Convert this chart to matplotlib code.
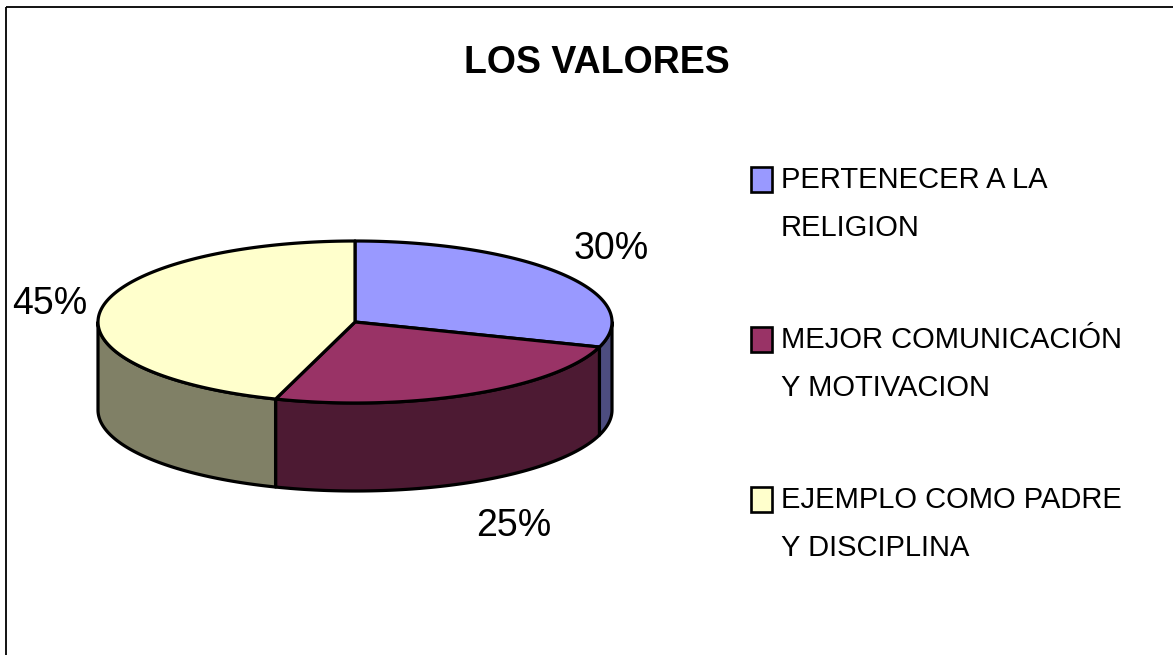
import numpy as np
import matplotlib
matplotlib.use("Agg")
import matplotlib.pyplot as plt
from matplotlib.patches import Polygon, Rectangle

# ---- data ----
title = "LOS VALORES"
categories = ["PERTENECER A LA\nRELIGION",
              "MEJOR COMUNICACIÓN\nY MOTIVACION",
              "EJEMPLO COMO PADRE\nY DISCIPLINA"]
values = [30, 25, 45]
colors = ["#9999FF", "#993366", "#FFFFCC"]

# ---- style / layout ----
W, H = 1173, 655
FONT = ["Liberation Sans", "DejaVu Sans"]
cx, cy = 355, 322          # centre of top ellipse (px)
rx, ry = 257, 81           # radii
depth = 88                 # thickness of the pie
start = 90                 # first slice starts at 12 o'clock, clockwise
lw = 2.3

def darker(c):
    r, g, b = matplotlib.colors.to_rgb(c)
    return (r * 0.5, g * 0.5, b * 0.5)

def arc(a0, a1, yoff=0, n=120):
    t = np.radians(np.linspace(a0, a1, n))
    return np.column_stack([cx + rx * np.cos(t), cy + yoff - ry * np.sin(t)])

fig = plt.figure(figsize=(W / 100, H / 100), dpi=100)
ax = fig.add_axes([0, 0, 1, 1])
ax.set_xlim(0, W)
ax.set_ylim(H, 0)
ax.axis("off")

# outer frame (cut at right / bottom like the reference)
ax.add_patch(Rectangle((6, 7), W + 20, H + 20, fill=False, ec="black", lw=1.3))

total = float(sum(values))
bounds = []
a = start
for v in values:
    a_end = a - v / total * 360.0
    bounds.append((a_end, a))
    a = a_end

# side faces (front half: angles between -180 and 0)
for (a0, a1), c in zip(bounds, colors):
    lo, hi = max(a0, -180), min(a1, 0)
    if hi > lo:
        top = arc(lo, hi)
        bot = arc(hi, lo, yoff=depth)
        ax.add_patch(Polygon(np.vstack([top, bot]), closed=True, fc=darker(c),
                             ec="black", lw=lw, joinstyle="round"))

# top faces
for (a0, a1), c in zip(bounds, colors):
    pts = np.vstack([[cx, cy], arc(a0, a1)])
    ax.add_patch(Polygon(pts, closed=True, fc=c, ec="black", lw=lw, joinstyle="round"))

# percentage labels
lab_w, lab_h = 68, 33
for (a0, a1), v in zip(bounds, values):
    m = np.radians((a0 + a1) / 2)
    cs, sn = np.cos(m), np.sin(m)
    x = cx + rx * 1.07 * cs + np.sign(cs) * lab_w / 2
    y = cy - (ry * 1.38 + lab_h / 2) * sn + (depth if sn < 0 else 0)
    ax.text(x, y + 12, f"{v / total * 100:.0f}%", ha="center", va="baseline",
            fontsize=27, family=FONT, color="black")

# title
ax.text(597, 73, title, ha="center", va="baseline", fontsize=27,
        fontweight="bold", family=FONT)

# legend
for i, (lab, c) in enumerate(zip(categories, colors)):
    base = 188 + i * 160
    ax.add_patch(Rectangle((751, base - 21), 21, 25, fc=c, ec="black", lw=1.9))
    for j, line in enumerate(lab.split("\n")):
        ax.text(781, base + j * 48, line, ha="left", va="baseline", fontsize=21,
                family=FONT)

fig.savefig("out.png", dpi=100)
